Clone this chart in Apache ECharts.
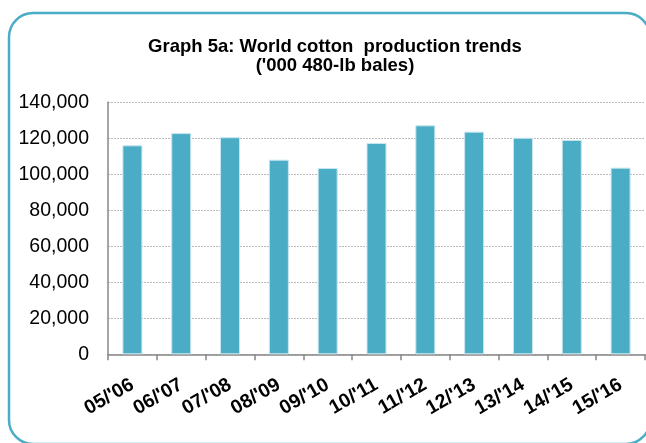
<!DOCTYPE html>
<html>
<head>
<meta charset="utf-8">
<style>
  html, body { margin: 0; padding: 0; background: #ffffff; }
  #chart { width: 646px; height: 443px; }
</style>
<script src="https://cdn.jsdelivr.net/npm/echarts@6/dist/echarts.min.js"></script>
</head>
<body>
<div id="chart"></div>
<script>
// Crop seasons on the category axis
const seasons = ["05/'06", "06/'07", "07/'08", "08/'09", "09/'10", "10/'11",
                 "11/'12", "12/'13", "13/'14", "14/'15", "15/'16"];

// World cotton production, thousand 480-lb bales
const production = [116100, 122900, 120600, 108100, 103500, 117400,
                    127200, 123700, 120300, 119100, 103700];

// Value axis ticks
const yMin = 0;
const yMax = 140000;
const yStep = 20000;

const chart = echarts.init(document.getElementById('chart'), null, { renderer: 'canvas' });

chart.setOption({
  animation: false,
  backgroundColor: '#ffffff',
  title: {
    text: "Graph 5a: World cotton  production trends\n('000 480-lb bales)",
    left: 330,
    top: 32,
    textAlign: 'center',
    textStyle: {
      fontFamily: 'Liberation Sans, Arial, sans-serif',
      fontSize: 18.5,
      fontWeight: 'bold',
      color: '#000000',
      lineHeight: 19
    }
  },
  graphic: [{
    // rounded frame around the whole chart
    type: 'rect',
    shape: { x: 9, y: 13, width: 641, height: 431, r: 24 },
    style: { fill: 'none', stroke: '#4BACC6', lineWidth: 2.5 },
    z: 10
  }],
  grid: {
    left: 108,
    right: 1,
    top: 102.3,
    bottom: 88.7,
    containLabel: false
  },
  xAxis: {
    type: 'category',
    data: seasons,
    boundaryGap: true,
    axisLine: { show: true, lineStyle: { color: '#878787', width: 1.5 } },
    axisTick: { show: true, length: 6, alignWithLabel: false, lineStyle: { color: '#878787', width: 1.5 } },
    axisLabel: {
      interval: 0,
      rotate: 30,
      margin: 29,
      fontFamily: 'Liberation Sans, Arial, sans-serif',
      fontSize: 19.5,
      fontWeight: 'bold',
      color: '#000000'
    },
    splitLine: { show: false }
  },
  yAxis: {
    type: 'value',
    min: yMin,
    max: yMax,
    interval: yStep,
    axisLine: { show: true, lineStyle: { color: '#878787', width: 1.5 } },
    axisTick: { show: false },
    axisLabel: {
      margin: 19,
      fontFamily: 'Liberation Sans, Arial, sans-serif',
      fontSize: 19.5,
      color: '#000000',
      formatter: function (v) { return v.toLocaleString('en-US'); }
    },
    splitLine: {
      show: true,
      lineStyle: { color: '#bcbcbc', width: 1.2, type: [2, 1] }
    }
  },
  series: [{
    type: 'bar',
    data: production,
    barWidth: 20,
    itemStyle: {
      color: '#4BACC6',
      borderColor: '#c8e6ef',
      borderWidth: 1
    }
  }]
});
</script>
</body>
</html>
